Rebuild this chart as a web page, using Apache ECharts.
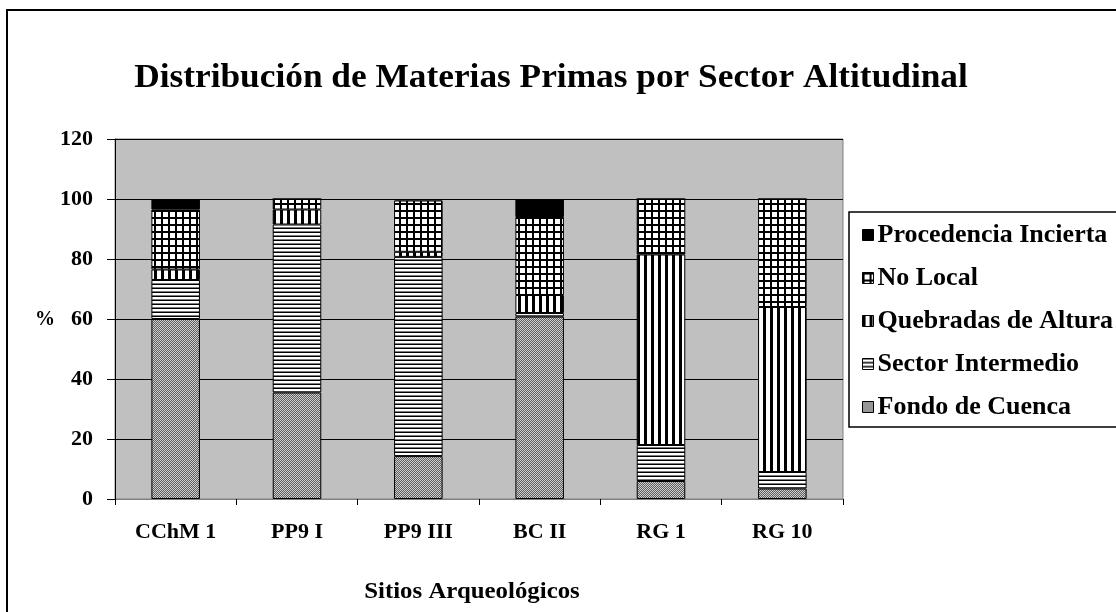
<!DOCTYPE html>
<html>
<head>
<meta charset="utf-8">
<script src="https://cdn.jsdelivr.net/npm/echarts@6/dist/echarts.min.js"></script>
<style>
  html, body { margin: 0; padding: 0; background: #fff; }
  #chart { width: 1116px; height: 612px; }
</style>
</head>
<body>
<div id="chart"></div>
<script>
// Sites (categories) and raw-material percentages per altitudinal sector
const sites = ['CChM 1', 'PP9 I', 'PP9 III', 'BC II', 'RG 1', 'RG 10'];
const fondoCuenca        = [60, 35.5, 14.3, 60.8, 6, 3.5];
const sectorIntermedio   = [13, 56, 66.4, 1.2, 12, 5.5];
const quebradasAltura    = [3.5, 5, 1.7, 6, 63.5, 55];
const noLocal            = [20, 3.5, 17.1, 26, 18.5, 36];
const procedenciaIncierta = [3.5, 0, 0.5, 6, 0, 0];
const yTicks = [0, 20, 40, 60, 80, 100, 120];

const FONT = "'Liberation Serif', 'Times New Roman', serif";

// Small canvas tiles used as monochrome hatch fills
function tile(w, h, draw) {
  const c = document.createElement('canvas');
  c.width = w; c.height = h;
  const g = c.getContext('2d');
  draw(g);
  return { image: c, repeat: 'repeat' };
}
const fillFondo = tile(2, 2, g => {
  g.fillStyle = '#5e5e5e'; g.fillRect(0, 0, 2, 2);
  g.fillStyle = '#cfcfcf'; g.fillRect(0, 0, 1, 1); g.fillRect(1, 1, 1, 1);
});
const fillSector = tile(4, 4, g => {
  g.fillStyle = '#ffffff'; g.fillRect(0, 0, 4, 4);
  g.fillStyle = '#000000'; g.fillRect(0, 0, 4, 1);
  g.fillStyle = '#7a7a7a'; g.fillRect(0, 3, 4, 1);
});
const fillQuebradas = tile(7, 7, g => {
  g.fillStyle = '#ffffff'; g.fillRect(0, 0, 7, 7);
  g.fillStyle = '#000000'; g.fillRect(0, 0, 3, 7);
});
const fillNoLocal = tile(7, 7, g => {
  g.fillStyle = '#ffffff'; g.fillRect(0, 0, 7, 7);
  g.fillStyle = '#000000'; g.fillRect(0, 0, 2, 7); g.fillRect(0, 0, 7, 2);
});

function bar(name, data, fill) {
  return {
    name, type: 'bar', stack: 'total', data,
    barWidth: '40%',
    itemStyle: { color: fill, borderColor: '#000', borderWidth: 1 },
    emphasis: { disabled: true }
  };
}

const chart = echarts.init(document.getElementById('chart'), null, { renderer: 'canvas' });
chart.setOption({
  backgroundColor: '#ffffff',
  animation: false,
  grid: {
    left: 115, right: 273, top: 139, bottom: 113,
    show: true, backgroundColor: '#c0c0c0', borderColor: '#808080', borderWidth: 1
  },
  xAxis: {
    type: 'category', data: sites,
    axisLine: { lineStyle: { color: '#808080', width: 1 } },
    axisTick: { show: true, alignWithLabel: false, length: 6, lineStyle: { color: '#000' } },
    axisLabel: { margin: 22, color: '#000', fontFamily: FONT, fontWeight: 'bold', fontSize: 22 }
  },
  yAxis: {
    type: 'value', min: yTicks[0], max: yTicks[yTicks.length - 1], interval: 20,
    axisLine: { show: true, lineStyle: { color: '#000', width: 1 } },
    axisTick: { show: true, length: 8, lineStyle: { color: '#000' } },
    axisLabel: { margin: 22, color: '#000', fontFamily: FONT, fontWeight: 'bold', fontSize: 22 },
    splitLine: { show: true, lineStyle: { color: '#000', width: 1 } }
  },
  legend: {
    orient: 'vertical', left: 857, top: 217,
    itemWidth: 11, itemHeight: 11, itemGap: 17,
    icon: 'rect',
    data: ['Procedencia Incierta', 'No Local', 'Quebradas de Altura', 'Sector Intermedio', 'Fondo de Cuenca'],
    itemStyle: { borderColor: '#000', borderWidth: 1 },
    textStyle: { color: '#000', fontFamily: FONT, fontWeight: 'bold', fontSize: 26, lineHeight: 26, padding: [0, 0, 0, -1] }
  },
  graphic: [
    { type: 'rect', z: -1, shape: { x: 7, y: 10, width: 1200, height: 700 },
      style: { fill: 'none', stroke: '#000', lineWidth: 2 } },
    { type: 'rect', z: 1, shape: { x: 849, y: 212, width: 300, height: 215 },
      style: { fill: '#fff', stroke: '#000', lineWidth: 1.5 } },
    { type: 'text', z: 5, x: 551, y: 78, scaleX: 1.07,
      style: { text: 'Distribución de Materias Primas por Sector Altitudinal', fill: '#000',
               font: 'bold 33px ' + FONT, textAlign: 'center', textVerticalAlign: 'middle' } },
    { type: 'text', z: 5, x: 472, y: 592, scaleX: 1.08,
      style: { text: 'Sitios Arqueológicos', fill: '#000',
               font: 'bold 23px ' + FONT, textAlign: 'center', textVerticalAlign: 'middle' } },
    { type: 'text', z: 5, x: 45, y: 320,
      style: { text: '%', fill: '#000',
               font: 'bold 20px ' + FONT, textAlign: 'center', textVerticalAlign: 'middle' } }
  ],
  series: [
    bar('Fondo de Cuenca', fondoCuenca, fillFondo),
    bar('Sector Intermedio', sectorIntermedio, fillSector),
    bar('Quebradas de Altura', quebradasAltura, fillQuebradas),
    bar('No Local', noLocal, fillNoLocal),
    bar('Procedencia Incierta', procedenciaIncierta, '#000')
  ]
});
</script>
</body>
</html>
